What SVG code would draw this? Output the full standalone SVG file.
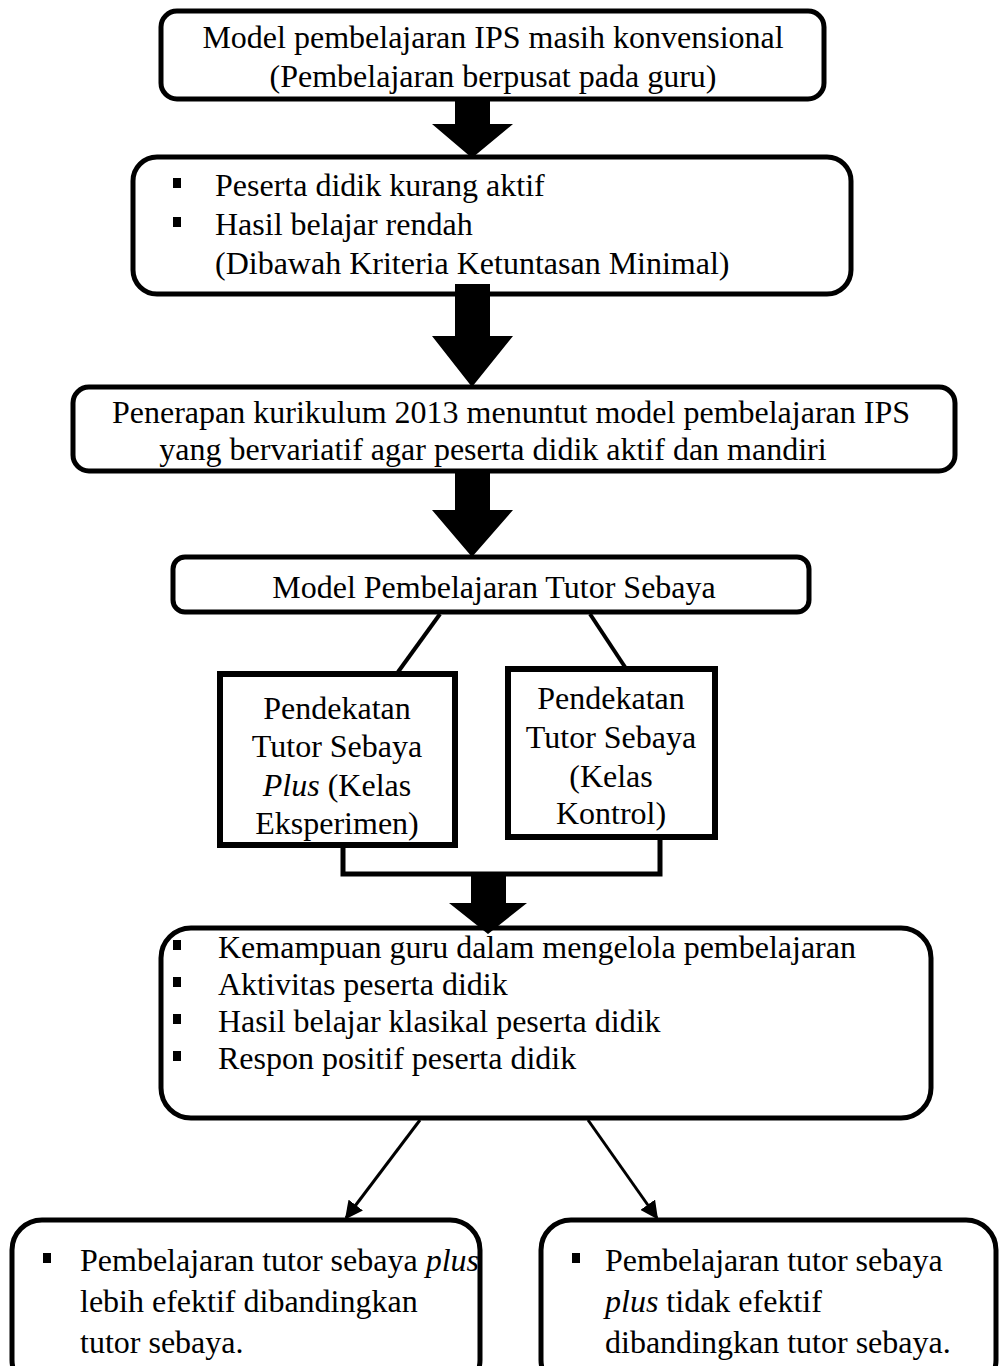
<svg xmlns="http://www.w3.org/2000/svg" width="1000" height="1366" viewBox="0 0 1000 1366">
<defs>
<style>
.box{fill:#fff;stroke:#000;stroke-width:5}
.t{font-family:"Liberation Serif","Times New Roman",serif;font-size:32px;fill:#000}
.c{text-anchor:middle}
.blk{fill:#000}
.ln{stroke:#000;stroke-width:4;fill:none}
.thin{stroke:#000;stroke-width:3;fill:none}
</style>
<marker id="ah" viewBox="0 0 10 10" refX="9" refY="5" markerWidth="6" markerHeight="6" orient="auto" markerUnits="strokeWidth">
<path d="M0,0 L10,5 L0,10 z" fill="#000"/>
</marker>
</defs>
<rect width="1000" height="1366" fill="#fff"/>

<g id="n1">
<rect class="box" x="161" y="11" width="663" height="88" rx="16"/>
<text class="t c" x="493" y="48">Model pembelajaran IPS masih konvensional</text>
<text class="t c" x="493" y="87">(Pembelajaran berpusat pada guru)</text>
</g>

<g id="n2">
<rect class="box" x="133" y="157" width="718" height="137" rx="24"/>
<rect class="blk" x="173" y="178" width="8" height="10"/>
<text class="t" x="215" y="196">Peserta didik kurang aktif</text>
<rect class="blk" x="173" y="217" width="8" height="10"/>
<text class="t" x="215" y="235">Hasil belajar rendah</text>
<text class="t" x="215" y="274">(Dibawah Kriteria Ketuntasan Minimal)</text>
</g>

<g id="n3">
<rect class="box" x="73" y="387" width="882" height="84" rx="16"/>
<text class="t c" x="511" y="423">Penerapan kurikulum 2013 menuntut model pembelajaran IPS</text>
<text class="t c" x="493" y="460">yang bervariatif agar peserta didik aktif dan mandiri</text>
</g>

<g id="n4">
<rect class="box" x="173" y="557" width="636" height="55" rx="12"/>
<text class="t c" x="494" y="598">Model Pembelajaran Tutor Sebaya</text>
</g>

<g id="n5">
<rect class="box" x="220" y="674" width="235" height="171" style="stroke-width:6"/>
<text class="t c" x="337" y="719">Pendekatan</text>
<text class="t c" x="337" y="757">Tutor Sebaya</text>
<text class="t c" x="337" y="796"><tspan font-style="italic">Plus</tspan> (Kelas</text>
<text class="t c" x="337" y="834">Eksperimen)</text>
</g>

<g id="n6">
<rect class="box" x="508" y="669" width="207" height="168" style="stroke-width:6"/>
<text class="t c" x="611" y="709">Pendekatan</text>
<text class="t c" x="611" y="748">Tutor Sebaya</text>
<text class="t c" x="611" y="787">(Kelas</text>
<text class="t c" x="611" y="824">Kontrol)</text>
</g>

<g id="n7">
<rect class="box" x="161" y="928" width="770" height="190" rx="30"/>
<rect class="blk" x="173" y="940" width="8" height="10"/>
<text class="t" x="218" y="958">Kemampuan guru dalam mengelola pembelajaran</text>
<rect class="blk" x="173" y="977" width="8" height="10"/>
<text class="t" x="218" y="995">Aktivitas peserta didik</text>
<rect class="blk" x="173" y="1014" width="8" height="10"/>
<text class="t" x="218" y="1032">Hasil belajar klasikal peserta didik</text>
<rect class="blk" x="173" y="1051" width="8" height="10"/>
<text class="t" x="218" y="1069">Respon positif peserta didik</text>
</g>

<g id="n8">
<rect class="box" x="12" y="1220" width="468" height="170" rx="30"/>
<rect class="blk" x="43" y="1253" width="8" height="10"/>
<text class="t" x="80" y="1271">Pembelajaran tutor sebaya <tspan font-style="italic">plus</tspan></text>
<text class="t" x="80" y="1312">lebih efektif dibandingkan</text>
<text class="t" x="80" y="1353">tutor sebaya.</text>
</g>

<g id="n9">
<rect class="box" x="541" y="1220" width="455" height="170" rx="30"/>
<rect class="blk" x="572" y="1253" width="8" height="10"/>
<text class="t" x="605" y="1271">Pembelajaran tutor sebaya</text>
<text class="t" x="605" y="1312"><tspan font-style="italic">plus</tspan> tidak efektif</text>
<text class="t" x="605" y="1353">dibandingkan tutor sebaya.</text>
</g>

<g id="connectors">
<polygon class="blk" points="455,98 490,98 490,124 513,124 472,158 432,124 455,124"/>
<polygon class="blk" points="455,284 490,284 490,336 513,336 472,387 432,336 455,336"/>
<polygon class="blk" points="455,470 490,470 490,510 513,510 472,557 432,510 455,510"/>
<line class="ln" x1="440" y1="614" x2="398" y2="672"/>
<line class="ln" x1="590" y1="614" x2="625" y2="667"/>
<polyline class="ln" points="343,846 343,874 660,874 660,839" style="stroke-width:5"/>
<polygon class="blk" points="471,874 506,874 506,903 527,903 488,934 449,903 471,903"/>
<line class="thin" x1="420" y1="1120" x2="346" y2="1218" marker-end="url(#ah)"/>
<line class="thin" x1="588" y1="1120" x2="657" y2="1218" marker-end="url(#ah)"/>
</g>
</svg>
